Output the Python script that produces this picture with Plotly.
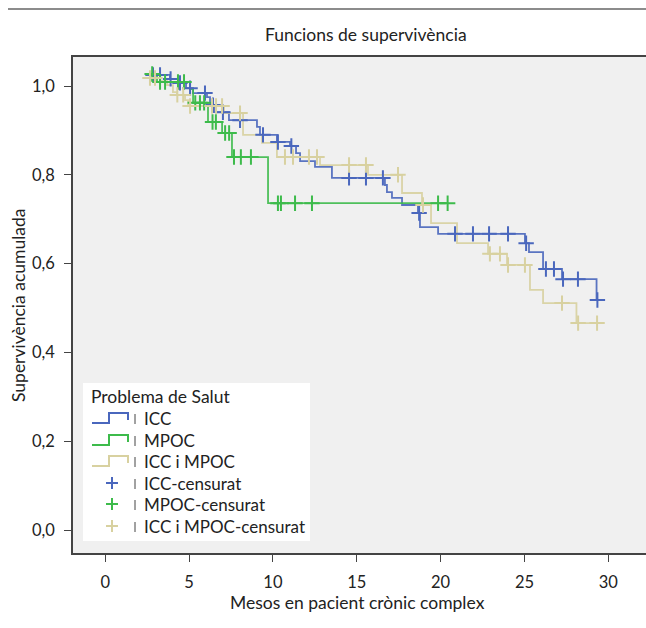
import numpy as np
import plotly.graph_objects as go

# ---------------- data ----------------
# ICC
icc_start = [2.55, 1.025]
icc_event_t = [3.86, 4.34, 4.82, 5.24, 6.07, 6.25, 6.49, 7.38, 9.05, 9.23, 10.24, 11.02,
               11.38, 11.62, 12.51, 13.52, 16.68, 16.80, 17.10, 17.70, 18.65, 18.77, 19.85,
               25.03, 25.27, 26.11, 27.24, 29.30]
icc_surv = [1.016, 1.007, 0.995, 0.984, 0.975, 0.957, 0.941, 0.923, 0.908, 0.890, 0.874, 0.865,
            0.849, 0.831, 0.818, 0.793, 0.777, 0.761, 0.748, 0.732, 0.714, 0.682, 0.667,
            0.646, 0.626, 0.588, 0.565, 0.518]
icc_end = 29.35
icc_cens_t = [2.85, 3.27, 3.9, 4.46, 5.06, 5.95, 6.43, 7.02, 8.04, 9.41, 10.3, 11.1, 14.54,
              15.55, 16.56, 18.72, 20.86, 21.93, 22.89, 24.02, 25.1, 26.28, 26.76, 27.3,
              28.19, 29.35]

# MPOC
mpoc_start = [2.55, 1.027]
mpoc_event_t = [3.09, 5.06, 5.24, 6.13, 6.97, 7.56, 9.71]
mpoc_surv = [1.009, 0.993, 0.962, 0.919, 0.894, 0.840, 0.736]
mpoc_end = 20.45
mpoc_cens_t = [2.8, 3.27, 3.57, 4.34, 4.70, 5.37, 5.65, 5.9, 6.4, 6.6, 7.15, 7.39, 7.68,
               8.09, 8.69, 10.30, 10.48, 11.32, 12.33, 19.85, 20.42]

# ICC i MPOC
both_start = [2.55, 1.018]
both_event_t = [3.27, 3.69, 4.04, 4.28, 4.76, 4.94, 7.09, 8.22, 9.35, 10.24, 12.81, 15.67,
                17.70, 18.89, 19.43, 20.98, 22.83, 23.96, 25.33, 26.11, 28.1]
both_surv = [1.011, 1.002, 0.986, 0.980, 0.968, 0.955, 0.939, 0.890, 0.872, 0.840, 0.822,
             0.800, 0.759, 0.732, 0.691, 0.646, 0.622, 0.597, 0.541, 0.511, 0.466]
both_end = 29.33
both_cens_t = [2.67, 2.97, 4.3, 4.65, 5.06, 6.37, 6.61, 6.97, 8.04, 10.72, 11.2, 12.15,
               12.63, 14.54, 15.55, 17.46, 18.95, 22.94, 23.54, 24.02, 25.03, 27.24, 28.2,
               29.33]

group_names = ["ICC", "MPOC", "ICC i MPOC"]
censor_names = ["ICC-censurat", "MPOC-censurat", "ICC i MPOC-censurat"]
colors = ["#4a67bd", "#3dbb4b", "#d8d1a0"]

x_ticks = [0, 5, 10, 15, 20, 25, 30]
y_ticks = [0.0, 0.2, 0.4, 0.6, 0.8, 1.0]

title_text = "Funcions de supervivència"
x_title = "Mesos en pacient crònic complex"
y_title = "Supervivència acumulada"
legend_title = "Problema de Salut"

FONT = "Lato"

groups = [
    (icc_start, icc_event_t, icc_surv, icc_end, icc_cens_t),
    (mpoc_start, mpoc_event_t, mpoc_surv, mpoc_end, mpoc_cens_t),
    (both_start, both_event_t, both_surv, both_end, both_cens_t),
]

fig = go.Figure()

for (start, ev_t, surv, end, cens), name, col in zip(groups, group_names, colors):
    xs = [start[0]] + list(ev_t) + [end]
    ys = [start[1]] + list(surv) + [surv[-1]]
    fig.add_trace(go.Scatter(x=xs, y=ys, mode="lines", line=dict(shape="hv", color=col, width=1.8),
                             name=name, showlegend=False, opacity=0.9))

for (start, ev_t, surv, end, cens), name, col in zip(groups, censor_names, colors):
    et = np.array(ev_t)
    sv = np.array([start[1]] + list(surv))
    idx = np.searchsorted(et, np.array(cens), side="right")
    cy = sv[idx]
    fig.add_trace(go.Scatter(x=cens, y=cy, mode="markers", name=name, showlegend=False,
                             marker=dict(symbol="cross-thin", size=11,
                                         line=dict(color=col, width=2))))

# pixel -> paper helpers for layout decorations
L, R, T, B = 73, 646, 57, 553
def PX(x):
    return (x - L) / (R - L)
def PY(y):
    return (B - y) / (B - T)

shapes = []
annotations = []

# top rule of the figure
shapes.append(dict(type="line", xref="paper", yref="paper", x0=PX(8), x1=1, y0=PY(9), y1=PY(9),
                   line=dict(color="#666666", width=1.5)))

# manual legend
shapes.append(dict(type="rect", xref="paper", yref="paper", x0=PX(83), x1=PX(310),
                   y0=PY(541), y1=PY(383), fillcolor="white", line=dict(width=0)))
annotations.append(dict(text=legend_title, xref="paper", yref="paper", x=PX(89), y=PY(396),
                        xanchor="left", yanchor="middle", showarrow=False,
                        font=dict(size=17.5, color="#222222", family=FONT)))
row_y = [418, 440, 461, 483, 504, 526]
labels = group_names + censor_names
for i, (yc, lab) in enumerate(zip(row_y, labels)):
    col = colors[i % 3]
    if i < 3:
        path = (f"M{PX(92)},{PY(yc+5)} L{PX(109)},{PY(yc+5)} L{PX(109)},{PY(yc-5)} "
                f"L{PX(128)},{PY(yc-5)} L{PX(128)},{PY(yc+2)}")
        shapes.append(dict(type="path", xref="paper", yref="paper", path=path,
                           line=dict(color=col, width=2)))
    else:
        shapes.append(dict(type="line", xref="paper", yref="paper", x0=PX(106), x1=PX(118),
                           y0=PY(yc), y1=PY(yc), line=dict(color=col, width=2)))
        shapes.append(dict(type="line", xref="paper", yref="paper", x0=PX(112), x1=PX(112),
                           y0=PY(yc-6), y1=PY(yc+6), line=dict(color=col, width=2)))
    shapes.append(dict(type="line", xref="paper", yref="paper", x0=PX(135), x1=PX(135),
                       y0=PY(yc-4), y1=PY(yc+6), line=dict(color="#444444", width=1)))
    annotations.append(dict(text=lab, xref="paper", yref="paper", x=PX(142), y=PY(yc),
                            xanchor="left", yanchor="middle", showarrow=False,
                            font=dict(size=17, color="#222222", family=FONT)))

# titles
annotations.append(dict(text=title_text, xref="paper", yref="paper", x=PX(366), y=PY(35),
                        xanchor="center", yanchor="middle", showarrow=False,
                        font=dict(size=17.5, color="#222222", family=FONT)))
annotations.append(dict(text=x_title, xref="paper", yref="paper", x=PX(357), y=PY(602),
                        xanchor="center", yanchor="middle", showarrow=False,
                        font=dict(size=17.5, color="#222222", family=FONT)))
annotations.append(dict(text=y_title, xref="paper", yref="paper", x=PX(18), y=PY(305),
                        xanchor="center", yanchor="middle", showarrow=False, textangle=-90,
                        font=dict(size=17.5, color="#222222", family=FONT)))

x_px0, x_per = 105.2, 16.77
y_px1, y_per = 86.0, 444.0

fig.update_layout(
    width=646, height=628, autosize=False,
    margin=dict(l=L, r=646 - R, t=T, b=628 - B, pad=0),
    paper_bgcolor="white", plot_bgcolor="#f0f0f0",
    separators=",.",
    font=dict(family=FONT, size=16, color="#222222"),
    shapes=shapes, annotations=annotations, showlegend=False,
    xaxis=dict(range=[(L - x_px0) / x_per, (R - x_px0) / x_per], tickvals=x_ticks,
               ticks="outside", ticklen=7, tickcolor="#444444", tickwidth=1,
               showline=True, linecolor="#444444", linewidth=1.5, mirror=True,
               showgrid=False, zeroline=False, ticklabelstandoff=6,
               tickfont=dict(size=16.5, family=FONT, color="#222222")),
    yaxis=dict(range=[1 - (B - y_px1) / y_per, 1 + (y_px1 - T) / y_per], tickvals=y_ticks,
               tickformat=".1f", ticks="outside", ticklen=7, tickcolor="#444444", tickwidth=1,
               showline=True, linecolor="#444444", linewidth=1.5,
               showgrid=False, zeroline=False, ticklabelstandoff=6,
               tickfont=dict(size=16.5, family=FONT, color="#222222")),
)

fig.write_html("out.html", post_script="document.body.style.margin='0';",
               config={"displayModeBar": False})
